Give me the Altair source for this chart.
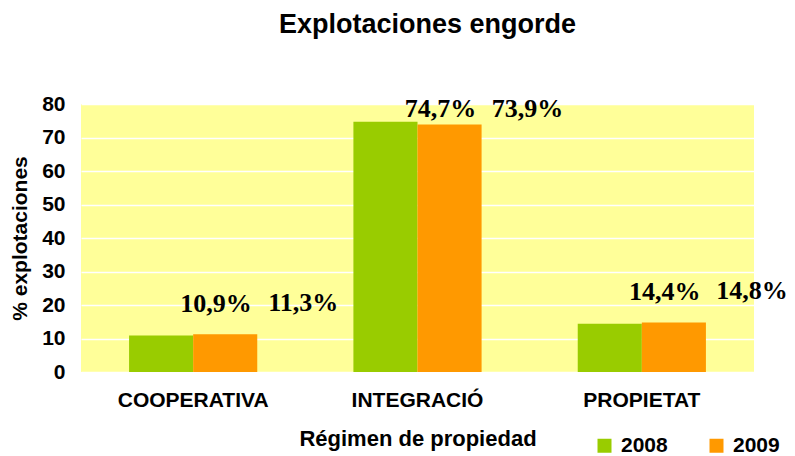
import altair as alt
import pandas as pd

categories = ["COOPERATIVA", "INTEGRACIÓ", "PROPIETAT"]
years = ["2008", "2009"]
values_2008 = [10.9, 74.7, 14.4]
values_2009 = [11.3, 73.9, 14.8]
colors = ["#99CC00", "#FF9900"]

rows = []
for c, v in zip(categories, values_2008):
    rows.append({"cat": c, "year": "2008", "value": v})
for c, v in zip(categories, values_2009):
    rows.append({"cat": c, "year": "2009", "value": v})
df = pd.DataFrame(rows)

FONT = "Liberation Sans"

x_enc = alt.X(
    "cat:N",
    sort=categories,
    scale=alt.Scale(paddingInner=0.4286, paddingOuter=0.2143),
    axis=alt.Axis(
        title="Régimen de propiedad",
        labelAngle=0,
        domain=False,
        ticks=False,
        labelFont=FONT,
        labelFontSize=21,
        labelFontWeight="bold",
        labelColor="black",
        labelPadding=17,
        titleFont=FONT,
        titleFontSize=22,
        titleFontWeight="bold",
        titleColor="black",
        titlePadding=18,
    ),
)
xoff = alt.XOffset("year:N", sort=years, scale=alt.Scale(domain=years))

y_axis = alt.Axis(
    title="% explotaciones",
    values=list(range(0, 90, 10)),
    domain=False,
    ticks=False,
    gridColor="white",
    gridWidth=1.5,
    gridOpacity=1,
    labelFont=FONT,
    labelFontSize=21,
    labelFontWeight="bold",
    labelColor="black",
    labelPadding=16,
    titleFont=FONT,
    titleFontSize=21,
    titleFontWeight="bold",
    titleColor="black",
    titlePadding=11,
)
y_scale = alt.Scale(domain=[0, 80], nice=False)

base = alt.Chart(df).encode(x=x_enc, xOffset=xoff)

bars = base.mark_bar().encode(
    y=alt.Y("value:Q", scale=y_scale, axis=y_axis),
    color=alt.Color(
        "year:N",
        scale=alt.Scale(domain=years, range=colors),
        legend=alt.Legend(
            title=None,
            orient="none",
            legendX=513,
            legendY=331,
            direction="horizontal",
            symbolType="square",
            symbolSize=196,
            symbolStrokeWidth=0,
            symbolOpacity=1,
            labelFont=FONT,
            labelFontSize=21,
            labelFontWeight="bold",
            labelColor="black",
            labelOffset=6,
            columnPadding=38,
        ),
    ),
)


def label_layer(year, dx):
    return (
        base.transform_filter(alt.datum.year == year)
        .transform_calculate(
            ly="min(datum.value + 7, 76.1)",
            lab="replace(format(datum.value, '.1f'), '.', ',') + '%'",
        )
        .mark_text(
            dx=dx,
            font="Liberation Serif",
            fontSize=26,
            fontWeight="bold",
            color="black",
            baseline="alphabetic",
            align="center",
        )
        .encode(
            y=alt.Y("ly:Q", scale=y_scale, axis=y_axis),
            text="lab:N",
        )
    )


chart = (
    alt.layer(bars, label_layer("2008", 55), label_layer("2009", 78))
    .properties(
        width=673,
        height=268,
        title=alt.TitleParams(
            "Explotaciones engorde",
            font=FONT,
            fontSize=27,
            fontWeight="bold",
            color="black",
            anchor="middle",
            dx=10,
            offset=54,
        ),
        autosize=alt.AutoSizeParams(type="none"),
        padding={"left": 73, "top": 96, "right": 33, "bottom": 84},
    )
    .configure(background="white")
    .configure_view(fill="#FFFF99", strokeWidth=0)
)

chart.save("out.html", embed_options={"renderer": "svg", "actions": False})
